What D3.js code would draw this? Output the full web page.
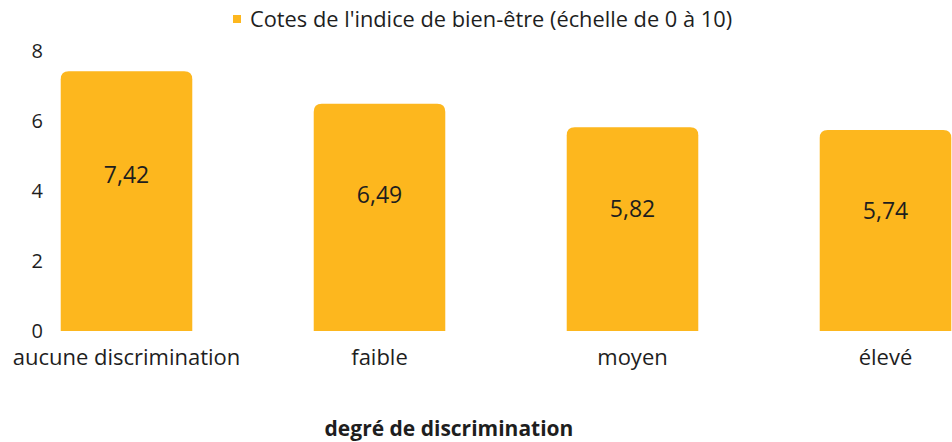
<!DOCTYPE html>
<html>
<head>
<meta charset="utf-8">
<script src="https://cdn.jsdelivr.net/npm/d3@7"></script>
<style>
  html, body { margin: 0; padding: 0; background: #fff; }
  svg { display: block; font-family: "Open Sans", Lato, sans-serif; }
</style>
</head>
<body>
<svg id="chart" width="952" height="442"></svg>
<script>
// data
var categories = ["aucune discrimination", "faible", "moyen", "élevé"];
var values = [7.42, 6.49, 5.82, 5.74];
var yTicks = [0, 2, 4, 6, 8];
var seriesName = "Cotes de l'indice de bien-être (échelle de 0 à 10)";
var xTitle = "degré de discrimination";

var barColor = "#FDB71E";
var textColor = "#1e1e1e";
var font = "'Open Sans', Lato, sans-serif";

var svg = d3.select("#chart");

var xScale = d3.scaleBand()
    .domain(categories)
    .range([0, 1012])
    .paddingInner(0.48)
    .paddingOuter(0.24);

var yScale = d3.scaleLinear()
    .domain([0, 8])
    .range([331, 51]);

var fmt = function (v) { return d3.format(".2f")(v).replace(".", ","); };

// rounded-top bar path
function barPath(x, y, w, h, r) {
    return "M" + x + "," + (y + h) +
        "V" + (y + r) +
        "Q" + x + "," + y + " " + (x + r) + "," + y +
        "H" + (x + w - r) +
        "Q" + (x + w) + "," + y + " " + (x + w) + "," + (y + r) +
        "V" + (y + h) + "Z";
}

// y axis (labels only)
var axisLeft = d3.axisLeft(yScale)
    .tickValues(yTicks)
    .tickSize(0)
    .tickPadding(0)
    .tickFormat(d3.format("d"));

svg.append("g")
    .attr("class", "axis axis-left")
    .attr("transform", "translate(43, 0)")
    .call(axisLeft)
    .call(function (g) { g.select(".domain").remove(); })
    .selectAll("text")
    .attr("font-size", 20)
    .attr("font-family", font)
    .attr("fill", textColor);

// bars
svg.append("g")
    .selectAll("path")
    .data(values)
    .join("path")
    .attr("d", function (d, i) {
        var x = xScale(categories[i]);
        var y = yScale(d);
        return barPath(x, y, xScale.bandwidth(), yScale(0) - y, 8);
    })
    .attr("fill", barColor);

// value labels
svg.append("g")
    .selectAll("text")
    .data(values)
    .join("text")
    .attr("x", function (d, i) { return xScale(categories[i]) + xScale.bandwidth() / 2; })
    .attr("y", function (d) { return yScale(d) + 0.4 * (yScale(0) - yScale(d)); })
    .attr("dy", "0.36em")
    .attr("text-anchor", "middle")
    .attr("font-size", 23)
    .attr("fill", textColor)
    .text(fmt);

// x axis (labels only)
var axisBottom = d3.axisBottom(xScale)
    .tickSize(0)
    .tickPadding(0);

svg.append("g")
    .attr("class", "axis axis-bottom")
    .attr("transform", "translate(0, 357)")
    .call(axisBottom)
    .call(function (g) { g.select(".domain").remove(); })
    .selectAll("text")
    .attr("dy", "0.36em")
    .attr("font-size", 22)
    .attr("font-family", font)
    .attr("fill", textColor);

// x title
svg.append("text")
    .attr("x", 449)
    .attr("y", 428)
    .attr("dy", "0.36em")
    .attr("text-anchor", "middle")
    .attr("font-size", 21)
    .attr("font-weight", "bold")
    .attr("fill", textColor)
    .text(xTitle);

// legend
var legend = svg.append("g").attr("transform", "translate(233, 19)");
legend.append("rect")
    .attr("x", 0).attr("y", -4)
    .attr("width", 8).attr("height", 8)
    .attr("fill", barColor);
legend.append("text")
    .attr("x", 17)
    .attr("dy", "0.36em")
    .attr("font-size", 21.8)
    .attr("fill", textColor)
    .text(seriesName);
</script>
</body>
</html>
